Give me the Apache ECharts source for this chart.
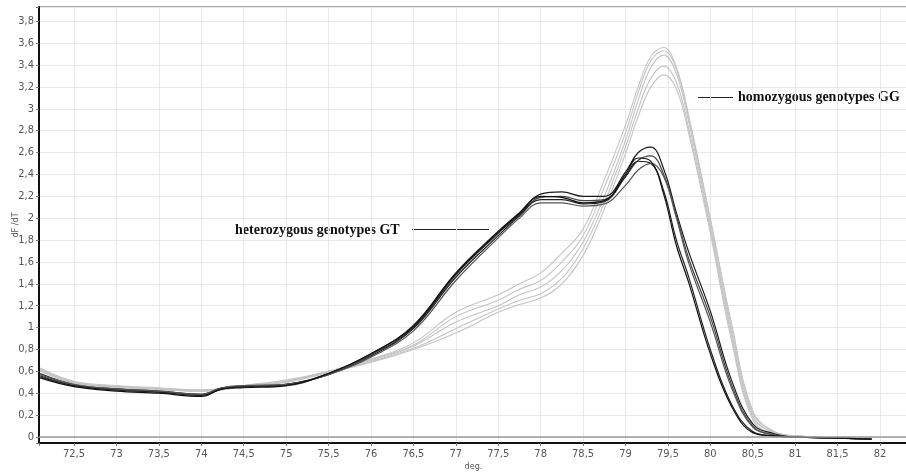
<!DOCTYPE html>
<html>
<head>
<meta charset="utf-8">
<script src="https://cdn.jsdelivr.net/npm/echarts@6/dist/echarts.min.js"></script>
<style>
html,body{margin:0;padding:0;background:#fff;}
#main{width:906px;height:474px;}
</style>
</head>
<body>
<div id="main"></div>
<script>
// temperature points (deg.)
var temps=[72.1,72.5,73,73.5,74,74.25,74.5,75,75.5,76,76.5,77,77.5,77.75,78,78.25,78.5,78.75,79,79.15,79.3,79.45,79.6,79.75,80,80.25,80.5,80.75,81,81.5,81.9];

// heterozygous GT curves (black)
var gt1=[0.58,0.48,0.44,0.42,0.39,0.45,0.46,0.48,0.58,0.76,1.02,1.50,1.88,2.05,2.22,2.24,2.20,2.20,2.42,2.60,2.65,2.45,2.05,1.68,1.15,0.52,0.12,0.03,0.00,-0.01,-0.02];
var gt2=[0.55,0.47,0.43,0.41,0.38,0.45,0.46,0.47,0.58,0.75,1.00,1.48,1.86,2.03,2.19,2.20,2.16,2.17,2.38,2.53,2.57,2.40,2.02,1.62,1.10,0.48,0.10,0.02,0.00,-0.01,-0.02];
var gt3=[0.56,0.47,0.43,0.41,0.38,0.44,0.46,0.48,0.57,0.74,0.99,1.46,1.84,2.02,2.17,2.17,2.13,2.15,2.38,2.52,2.50,2.25,1.80,1.45,0.80,0.30,0.05,0.01,0.00,-0.01,-0.02];
var gt4=[0.57,0.48,0.44,0.42,0.39,0.45,0.47,0.48,0.57,0.73,0.97,1.43,1.82,2.00,2.14,2.14,2.11,2.13,2.30,2.44,2.50,2.38,2.00,1.58,1.05,0.45,0.09,0.02,0.00,-0.01,-0.02];
var gt5=[0.54,0.46,0.42,0.40,0.37,0.44,0.45,0.47,0.58,0.76,1.01,1.49,1.87,2.04,2.20,2.19,2.14,2.16,2.40,2.55,2.52,2.22,1.75,1.40,0.76,0.28,0.04,0.01,0.00,-0.01,-0.02];

// homozygous GG curves (grey)
var gg1=[0.63,0.51,0.47,0.45,0.43,0.44,0.47,0.52,0.60,0.71,0.86,1.14,1.30,1.40,1.50,1.68,1.90,2.35,2.85,3.20,3.48,3.56,3.38,2.92,2.00,1.04,0.24,0.05,0.01,-0.01,-0.02];
var gg2=[0.62,0.50,0.46,0.44,0.43,0.44,0.47,0.51,0.60,0.71,0.84,1.10,1.25,1.35,1.43,1.60,1.84,2.28,2.78,3.15,3.44,3.53,3.36,2.90,1.97,1.00,0.22,0.05,0.01,-0.01,-0.02];
var gg3=[0.61,0.50,0.46,0.44,0.42,0.44,0.46,0.51,0.60,0.70,0.83,1.05,1.20,1.30,1.37,1.52,1.78,2.20,2.71,3.08,3.38,3.49,3.32,2.86,1.93,0.96,0.20,0.04,0.01,-0.01,-0.02];
var gg4=[0.62,0.50,0.46,0.44,0.42,0.44,0.46,0.50,0.59,0.69,0.81,0.99,1.17,1.25,1.31,1.45,1.72,2.14,2.65,3.00,3.28,3.39,3.24,2.80,1.90,0.92,0.18,0.04,0.01,-0.01,-0.02];
var gg5=[0.60,0.49,0.45,0.43,0.42,0.43,0.46,0.50,0.59,0.68,0.80,0.95,1.14,1.21,1.27,1.40,1.66,2.08,2.59,2.93,3.20,3.31,3.18,2.76,1.86,0.88,0.16,0.03,0.01,-0.01,-0.02];

var ggList=[gg1,gg2,gg3,gg4,gg5];
var gtList=[gt1,gt2,gt3,gt4,gt5];
var gtColors=['#1a1a1a','#444','#222','#555','#111'];

function pairs(vals){
    var a=[];
    for(var i=0;i<temps.length;i++){
        a.push([temps[i],vals[i]]);
    }
    return a;
}
function commaLabel(step){
    return function(v){
        var k=v/step;
        if(Math.abs(k-Math.round(k))>1e-6) return '';
        return String(+v.toFixed(2)).replace('.',',');
    };
}

var chart=echarts.init(document.getElementById('main'));
var series=[];
for(var i=0;i<ggList.length;i++){
    series.push({
        type:'line',
        data:pairs(ggList[i]),
        smooth:0.4,
        showSymbol:false,
        silent:true,
        lineStyle:{color:'#c4c4c4',width:1.1}
    });
}
for(var j=0;j<gtList.length;j++){
    series.push({
        type:'line',
        data:pairs(gtList[j]),
        smooth:0.4,
        showSymbol:false,
        silent:true,
        lineStyle:{color:gtColors[j],width:1.2}
    });
}
// grey zero line
series[0].markLine={
    silent:true,
    symbol:'none',
    label:{show:false},
    lineStyle:{color:'#999',width:1.5,type:'solid'},
    data:[{yAxis:0}]
};

var labelFont='"Liberation Sans Narrow","DejaVu Sans Condensed",Arial,sans-serif';
var option={
    animation:false,
    grid:{left:39,top:7,right:-2,bottom:31,show:true,borderColor:'#555',borderWidth:1,outerBoundsMode:'none',containLabel:false},
    xAxis:{
        type:'value',
        min:72.087,
        max:82.33,
        splitNumber:20,
        minInterval:0.5,
        maxInterval:0.5,
        name:'deg.',
        nameLocation:'middle',
        nameGap:19,
        nameMoveOverlap:false,
        nameTextStyle:{color:'#555',fontSize:9,fontFamily:labelFont,verticalAlign:'top'},
        axisLine:{onZero:false,lineStyle:{color:'#111',width:2}},
        axisTick:{show:true,length:3,lineStyle:{color:'#777'}},
        axisLabel:{color:'#555',fontSize:11,fontFamily:labelFont,margin:6,formatter:commaLabel(0.5)},
        splitLine:{show:true,lineStyle:{color:'#e8e8e8',width:1}}
    },
    yAxis:{
        type:'value',
        min:-0.055,
        max:3.93,
        splitNumber:20,
        minInterval:0.2,
        maxInterval:0.2,
        name:'dF /dT',
        nameLocation:'middle',
        nameGap:19,
        nameMoveOverlap:false,
        nameTextStyle:{color:'#555',fontSize:9,fontFamily:labelFont},
        axisLine:{show:true,onZero:false,lineStyle:{color:'#111',width:2}},
        axisTick:{show:true,length:3,lineStyle:{color:'#777'}},
        axisLabel:{color:'#555',fontSize:11,fontFamily:labelFont,margin:5,formatter:commaLabel(0.2)},
        splitLine:{show:true,lineStyle:{color:'#e8e8e8',width:1}}
    },
    graphic:[
        {type:'line',shape:{x1:698,y1:97.5,x2:733,y2:97.5},style:{stroke:'#222',lineWidth:1}},
        {type:'text',x:738,y:97,style:{text:'homozygous genotypes GG',font:'bold 14px "Liberation Serif","Times New Roman",serif',fill:'#111',verticalAlign:'middle'}},
        {type:'text',x:235,y:230,style:{text:'heterozygous genotypes GT',font:'bold 14px "Liberation Serif","Times New Roman",serif',fill:'#111',verticalAlign:'middle'}},
        {type:'line',shape:{x1:412,y1:229.5,x2:489,y2:229.5},style:{stroke:'#222',lineWidth:1}}
    ],
    series:series
};
chart.setOption(option);
</script>
</body>
</html>
